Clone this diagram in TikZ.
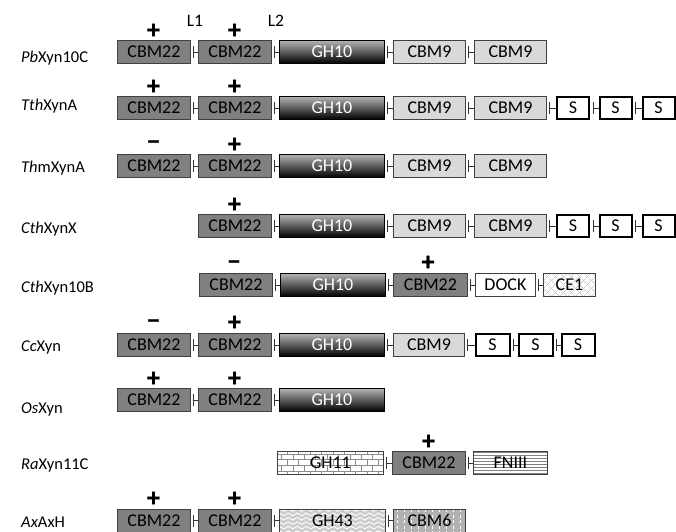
\documentclass[tikz,border=0pt]{standalone}
\usepackage{fontspec}
\setmainfont{Carlito}
\newfontfamily\sgnfont[FakeBold=1.2]{Carlito Bold}
\usetikzlibrary{patterns,decorations.pathmorphing,calc}
\newcommand\dlink[2]{\draw[lnk] ([xshift=3pt]#1.east) -- (#2.west) ([xshift=3pt,yshift=6pt]#1.east) -- ([xshift=3pt,yshift=-6pt]#1.east);}
\begin{document}
\begin{tikzpicture}[x=1pt,y=-1pt,
 dom/.style={draw=black!75, line width=0.9pt, anchor=west, minimum height=23pt, inner sep=0pt, font=\fontsize{18}{20}\selectfont},
 cbmA/.style={dom, fill=black!50, minimum width=73pt},
 cbmB/.style={dom, fill=black!15, minimum width=72pt},
 ghten/.style={dom, draw=black, top color=black!30, middle color=black!85, bottom color=black, text=white, minimum width=105pt},
 sdom/.style={dom, draw=black, line width=2.2pt, fill=white, minimum width=32pt, minimum height=22pt},
 dockdom/.style={dom, fill=white, minimum width=60pt},
 cedom/.style={dom, fill=white, minimum width=52pt, path picture={
   \foreach \k in {-4,...,10}{
     \draw[black!22, line width=0.5pt] ($(path picture bounding box.south west)+(\k*8,0)$) -- ++(26,-26);
     \draw[black!22, line width=0.5pt] ($(path picture bounding box.south west)+(\k*8,0)$) -- ++(-26,-26);}}},
 brickdom/.style={dom, pattern=bricks, pattern color=black!45, minimum width=106pt},
 fndom/.style={dom, pattern=horizontal lines, pattern color=black!50, minimum width=74pt},
 wavedom/.style={dom, fill=black!20, minimum width=106pt, path picture={
   \foreach \k in {0,...,5}{
     \draw[white, line width=0.9pt, decorate, decoration={snake, amplitude=1.3pt, segment length=9pt}]
       ($(path picture bounding box.north west)+(-3,\k*4.4+1)$) -- ($(path picture bounding box.north east)+(3,\k*4.4+1)$);}}},
 dashdom/.style={dom, fill=black!30, minimum width=72pt, path picture={
   \foreach \k in {1,...,10}{
     \draw[white, line width=0.8pt, dash pattern=on 3pt off 2.5pt]
       ($(path picture bounding box.north west)+(\k*7-3,0)$) -- ($(path picture bounding box.south west)+(\k*7-3,0)$);}}},
 lbl/.style={anchor=base west, font=\fontsize{16.5}{19}\selectfont, inner sep=0pt},
 sgn/.style={font=\sgnfont\fontsize{26}{28}\selectfont, inner sep=0pt},
 llbl/.style={font=\fontsize{17.5}{20}\selectfont, inner sep=0pt},
 lnk/.style={draw=black!80, line width=0.9pt}
]
\useasboundingbox (0,0) rectangle (676,531);
\clip (0,0) rectangle (676,531);

% linker labels
\node[llbl] (L1) at (195,21) {L1};
\node[llbl] (L2) at (276,21) {L2};

% Row 1: PbXyn10C
\node[lbl] (n1) at (21,62) {\textit{Pb}Xyn10C};
\node[cbmA] (a1) at (117,52) {CBM22};
\node[cbmA] (b1) at (198,52) {CBM22};
\node[ghten] (c1) at (279,52) {GH10};
\node[cbmB] (d1) at (393,52) {CBM9};
\node[cbmB] (e1) at (474,52) {CBM9};
\dlink{a1}{b1}\dlink{b1}{c1}\dlink{c1}{d1}\dlink{d1}{e1}
\node[sgn] (p1a) at (153.5,31) {+};
\node[sgn] (p1b) at (234.5,31) {+};

% Row 2: TthXynA
\node[lbl] (n2) at (21,110) {\textit{Tth}XynA};
\node[cbmA] (a2) at (117,108) {CBM22};
\node[cbmA] (b2) at (198,108) {CBM22};
\node[ghten] (c2) at (279,108) {GH10};
\node[cbmB] (d2) at (393,108) {CBM9};
\node[cbmB] (e2) at (474,108) {CBM9};
\node[sdom] (f2) at (556,108) {S};
\node[sdom] (g2) at (598.5,108) {S};
\node[sdom] (h2) at (641.5,108) {S};
\dlink{a2}{b2}\dlink{b2}{c2}\dlink{c2}{d2}\dlink{d2}{e2}\dlink{e2}{f2}\dlink{f2}{g2}\dlink{g2}{h2}
\node[sgn] (p2a) at (153.5,87) {+};
\node[sgn] (p2b) at (234.5,87) {+};

% Row 3: ThmXynA
\node[lbl] (n3) at (21,172) {\textit{Th}mXynA};
\node[cbmA] (a3) at (117,166) {CBM22};
\node[cbmA] (b3) at (198,166) {CBM22};
\node[ghten] (c3) at (279,166) {GH10};
\node[cbmB] (d3) at (393,166) {CBM9};
\node[cbmB] (e3) at (474,166) {CBM9};
\dlink{a3}{b3}\dlink{b3}{c3}\dlink{c3}{d3}\dlink{d3}{e3}
\node[sgn] (p3a) at (153.5,145) {−};
\node[sgn] (p3b) at (234.5,145) {+};

% Row 4: CthXynX
\node[lbl] (n4) at (21,233) {\textit{Cth}XynX};
\node[cbmA] (b4) at (198,226) {CBM22};
\node[ghten] (c4) at (279,226) {GH10};
\node[cbmB] (d4) at (393,226) {CBM9};
\node[cbmB] (e4) at (474,226) {CBM9};
\node[sdom] (f4) at (556,226) {S};
\node[sdom] (g4) at (598.5,226) {S};
\node[sdom] (h4) at (641.5,226) {S};
\dlink{b4}{c4}\dlink{c4}{d4}\dlink{d4}{e4}\dlink{e4}{f4}\dlink{f4}{g4}\dlink{g4}{h4}
\node[sgn] (p4b) at (234.5,205) {+};

% Row 5: CthXyn10B
\node[lbl] (n5) at (21,292) {\textit{Cth}Xyn10B};
\node[cbmA] (a5) at (199,285) {CBM22};
\node[ghten] (c5) at (280,285) {GH10};
\node[cbmA, minimum width=74pt] (d5) at (393,285) {CBM22};
\node[dockdom] (e5) at (475,285) {DOCK};
\node[cedom] (f5) at (543,285) {CE1};
\dlink{a5}{c5}\dlink{c5}{d5}\dlink{d5}{e5}\dlink{e5}{f5}
\node[sgn] (p5a) at (234,265) {−};
\node[sgn] (p5b) at (428,263) {+};

% Row 6: CcXyn
\node[lbl] (n6) at (21,351) {\textit{Cc}Xyn};
\node[cbmA] (a6) at (117,345) {CBM22};
\node[cbmA] (b6) at (198,345) {CBM22};
\node[ghten] (c6) at (279,345) {GH10};
\node[cbmB, minimum width=71pt] (d6) at (393,345) {CBM9};
\node[sdom, minimum width=34pt] (f6) at (474.5,345) {S};
\node[sdom, minimum width=34pt] (g6) at (517.5,345) {S};
\node[sdom, minimum width=33pt] (h6) at (560.5,345) {S};
\dlink{a6}{b6}\dlink{b6}{c6}\dlink{c6}{d6}\dlink{d6}{f6}\dlink{f6}{g6}\dlink{g6}{h6}
\node[sgn] (p6a) at (153.5,324) {−};
\node[sgn] (p6b) at (234.5,323) {+};

% Row 7: OsXyn
\node[lbl] (n7) at (21,413) {\textit{Os}Xyn};
\node[cbmA] (a7) at (117,400) {CBM22};
\node[cbmA] (b7) at (198,400) {CBM22};
\node[ghten] (c7) at (279,400) {GH10};
\dlink{a7}{b7}\dlink{b7}{c7}
\node[sgn] (p7a) at (153.5,379) {+};
\node[sgn] (p7b) at (234.5,379) {+};

% Row 8: RaXyn11C
\node[lbl] (n8) at (21,469) {\textit{Ra}Xyn11C};
\node[brickdom] (c8) at (277,463) {GH11};
\node[cbmA] (d8) at (392,463) {CBM22};
\node[fndom] (e8) at (473,463) {FNIII};
\dlink{c8}{d8}\dlink{d8}{e8}
\node[sgn] (p8b) at (428.5,442) {+};

% Row 9: AxAxH
\node[lbl] (n9) at (21,527) {\textit{Ax}AxH};
\node[cbmA] (a9) at (117,520.5) {CBM22};
\node[cbmA] (b9) at (198,520.5) {CBM22};
\node[wavedom] (c9) at (279,520.5) {GH43};
\node[dashdom] (d9) at (393,520.5) {CBM6};
\dlink{a9}{b9}\dlink{b9}{c9}\dlink{c9}{d9}
\node[sgn] (p9a) at (153.5,499) {+};
\node[sgn] (p9b) at (234.5,499) {+};
\end{tikzpicture}
\end{document}
